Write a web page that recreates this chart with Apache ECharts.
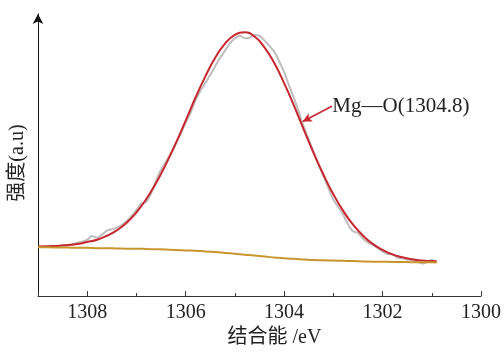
<!DOCTYPE html>
<html>
<head>
<meta charset="utf-8">
<script src="https://cdn.jsdelivr.net/npm/echarts@6/dist/echarts.min.js"></script>
<style>html,body{margin:0;padding:0;background:#fff}#c{width:504px;height:353px}</style>
</head>
<body>
<div id="c"></div>
<script>
// Binding energy (eV) for fitted curves
var fitEnergy = [1309.0,1308.8,1308.6,1308.4,1308.2,1308.0,1307.8,1307.6,1307.4,1307.2,1307.0,1306.8,1306.6,1306.4,1306.2,1306.0,1305.8,1305.6,1305.4,1305.2,1305.0,1304.8,1304.6,1304.4,1304.2,1304.0,1303.8,1303.6,1303.4,1303.2,1303.0,1302.8,1302.6,1302.4,1302.2,1302.0,1301.8,1301.6,1301.4,1301.2,1301.0,1300.9];
// Mg—O fitted peak (envelope)
var fitPeak = [17.6,17.7,17.8,18.1,18.5,19.2,20.0,21.4,23.3,26.0,29.7,34.4,40.1,46.8,54.2,62.2,70.4,77.9,84.5,89.5,92.6,93.5,92.0,88.2,82.6,75.5,67.5,59.0,50.7,43.0,36.1,30.2,25.3,21.5,18.5,16.4,14.8,13.8,13.05,12.6,12.4,12.25];
// Background
var background = [17.3,17.3,17.2,17.2,17.1,17.1,17.0,17.0,16.9,16.8,16.8,16.7,16.6,16.5,16.3,16.2,16.1,15.8,15.6,15.3,15.0,14.7,14.4,14.0,13.7,13.4,13.2,13.0,12.8,12.7,12.6,12.5,12.4,12.3,12.2,12.2,12.1,12.1,12.0,12.0,12.0,11.95];
// Raw spectrum
var rawEnergy = [1309.0,1308.9,1308.8,1308.7,1308.6,1308.5,1308.4,1308.3,1308.2,1308.1,1308.0,1307.9,1307.8,1307.7,1307.6,1307.5,1307.4,1307.3,1307.2,1307.1,1307.0,1306.9,1306.8,1306.7,1306.6,1306.5,1306.4,1306.3,1306.2,1306.1,1306.0,1305.9,1305.8,1305.7,1305.6,1305.5,1305.4,1305.3,1305.2,1305.1,1305.0,1304.9,1304.8,1304.7,1304.6,1304.5,1304.4,1304.3,1304.2,1304.1,1304.0,1303.9,1303.8,1303.7,1303.6,1303.5,1303.4,1303.3,1303.2,1303.1,1303.0,1302.9,1302.8,1302.7,1302.6,1302.5,1302.4,1302.3,1302.2,1302.1,1302.0,1301.9,1301.8,1301.7,1301.6,1301.5,1301.4,1301.3,1301.2,1301.1,1301.0,1300.9];
var rawIntensity = [17.4,17.5,17.6,17.6,17.7,17.9,18.0,18.4,18.9,19.3,20.0,21.3,20.7,21.8,23.2,23.7,24.3,25.2,26.6,28.4,30.6,32.8,33.4,36.5,41.0,44.8,47.6,50.8,54.0,57.6,61.5,65.0,69.5,72.8,75.5,78.5,81.5,84.5,87.0,89.6,91.4,92.3,91.4,91.6,92.6,92.3,90.6,88.7,86.6,83.2,79.4,74.6,70.2,65.2,60.0,55.5,51.0,46.8,42.5,38.3,34.2,31.6,28.8,25.4,23.0,22.4,20.4,19.0,18.2,17.0,15.8,14.9,14.8,13.6,13.4,13.0,12.7,12.2,11.6,12.0,12.8,12.2];
// Axis tick values and annotation
var xTicks = [1300,1302,1304,1306,1308];
var annotText = 'Mg\u2014O(1304.8)';
var annotStart = [1303.03, 67.3];
var annotTip = [1303.62, 61.9];

function pairs(xs, ys){ var out=[]; for(var i=0;i<xs.length;i++) out.push([xs[i], ys[i]]); return out; }

var FONT = '"Liberation Serif","Noto Sans CJK SC",serif';
var chart = echarts.init(document.getElementById('c'), null, {renderer:'canvas'});
chart.setOption({
  animation:false,
  backgroundColor:'#fff',
  grid:{left:38, right:23, top:14, bottom:54},
  xAxis:{
    type:'value', inverse:true, min:1300, max:1309, interval:2,
    axisLine:{lineStyle:{color:'#333', width:1}},
    axisTick:{inside:true, length:5, lineStyle:{color:'#333'}},
    minorTick:{show:true, splitNumber:2, length:3, lineStyle:{color:'#333'}},
    splitLine:{show:false},
    axisLabel:{fontFamily:FONT, fontSize:20, color:'#222', margin:7,
      formatter:function(v){ return xTicks.indexOf(v)>=0 ? String(v) : ''; }},
    name:'结合能 /eV', nameLocation:'middle', nameGap:30,
    nameTextStyle:{fontFamily:FONT, fontSize:20, color:'#222', padding:[0,0,0,30]}
  },
  yAxis:{
    type:'value', min:0, max:100,
    axisLine:{show:true, symbol:['none','arrow'], symbolSize:[8,10], lineStyle:{color:'#111', width:1}},
    axisTick:{show:false}, axisLabel:{show:false}, splitLine:{show:false},
    name:'强度(a.u)', nameLocation:'middle', nameGap:10,
    nameTextStyle:{fontFamily:FONT, fontSize:20, color:'#222', padding:[0,0,0,-16]}
  },
  series:[
    {type:'line', data:pairs(rawEnergy, rawIntensity), showSymbol:false, smooth:0.3,
     lineStyle:{color:'#bdbdbd', width:2}, z:2},
    {type:'line', data:pairs(fitEnergy, fitPeak), showSymbol:false, smooth:true,
     lineStyle:{color:'#c8262e', width:2}, z:3,
     markLine:{silent:true, symbol:['none','arrow'], symbolSize:[7,9],
       lineStyle:{color:'#c8262e', width:1.5, type:'solid'}, label:{show:false},
       data:[[{coord:annotStart},{coord:annotTip}]]},
     markPoint:{silent:true, symbol:'rect', symbolSize:1, itemStyle:{color:'rgba(0,0,0,0)'},
       label:{show:true, position:'right', distance:0, formatter:annotText,
         fontFamily:FONT, fontSize:21, color:'#222'},
       data:[{coord:annotStart}]}},
    {type:'line', data:pairs(fitEnergy, background), showSymbol:false, smooth:true,
     lineStyle:{color:'#c9962e', width:2}, z:4}
  ]
});
</script>
</body>
</html>
